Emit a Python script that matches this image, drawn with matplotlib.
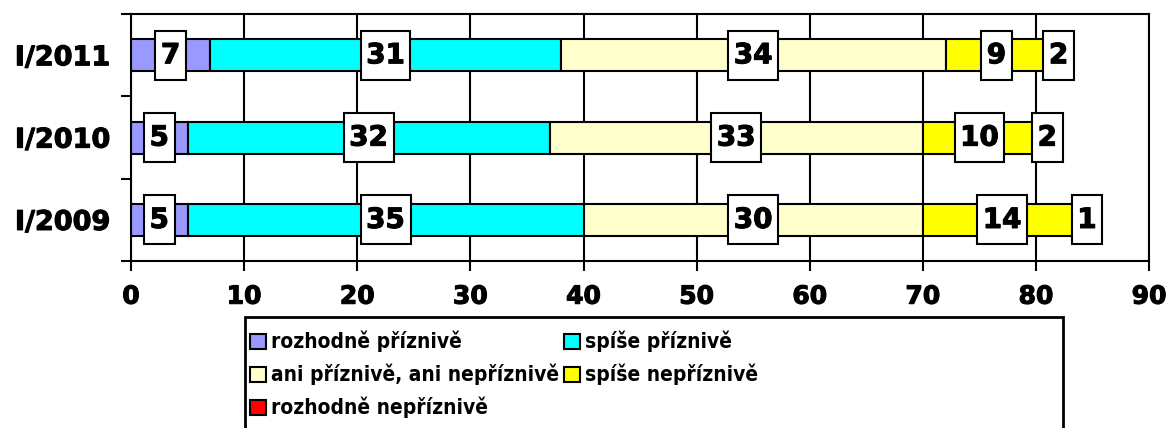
import numpy as np
import matplotlib.pyplot as plt
import matplotlib.patheffects as pe
from matplotlib.path import Path
from matplotlib.patches import Rectangle

years = ['I/2009', 'I/2010', 'I/2011']
series = ['rozhodně příznivě', 'spíše příznivě', 'ani příznivě, ani nepříznivě',
          'spíše nepříznivě', 'rozhodně nepříznivě']
rozhodne_pr = [5, 5, 7]
spise_pr = [35, 32, 31]
ani = [30, 33, 34]
spise_ne = [14, 10, 9]
rozhodne_ne = [1, 2, 2]
colors = ['#9999FF', '#00FFFF', '#FFFFCC', '#FFFF00', '#FF0000']

data = [rozhodne_pr, spise_pr, ani, spise_ne, rozhodne_ne]


def label_box(x0, y0, width, height, mutation_size):
    # wider vertical padding than horizontal, like the excel labels
    px = 0.2 * mutation_size
    py = 0.38 * mutation_size
    x0, x1 = x0 - px, x0 + width + px
    y0, y1 = y0 - py, y0 + height + py
    return Path([(x0, y0), (x1, y0), (x1, y1), (x0, y1), (x0, y0)], closed=True)


fig = plt.figure(figsize=(11.69, 4.28), dpi=100)
ax = fig.add_axes([0.1121, 0.390, 0.8709, 0.577])

thick = [pe.withStroke(linewidth=0.8, foreground='black')]

y = np.arange(len(years))
left = np.zeros(len(years))
handles = []
for vals, c, name in zip(data, colors, series):
    vals = np.array(vals)
    b = ax.barh(y, vals, left=left, height=0.39, color=c, edgecolor='black',
                linewidth=1.5, label=name, zorder=2)
    handles.append(b)
    for yi, v, l in zip(y, vals, left):
        ax.text(l + v / 2, yi, str(v), ha='center', va='center', fontsize=20,
                fontweight='bold', zorder=4, path_effects=thick,
                bbox=dict(boxstyle=label_box, fc='white', ec='black', lw=1.5))
    left = left + vals

ax.set_xlim(0, 90)
ax.set_ylim(-0.5, 2.5)
ax.set_xticks(np.arange(0, 91, 10))
ax.set_yticks(y)
ax.set_yticklabels(years)
ax.set_yticks([-0.5, 0.5, 1.5, 2.5], minor=True)
ax.tick_params(axis='y', which='major', length=0, pad=15)
ax.tick_params(axis='y', which='minor', length=7, width=1.5)
ax.tick_params(axis='x', length=7, width=1.5, pad=10)
for lab in ax.get_xticklabels():
    lab.set_fontsize(18)
    lab.set_fontweight('bold')
    lab.set_path_effects(thick)
for lab in ax.get_yticklabels():
    lab.set_fontsize(19.5)
    lab.set_fontweight('bold')
    lab.set_path_effects(thick)
ax.grid(axis='x', color='black', linewidth=1.5, zorder=1)
ax.set_axisbelow(True)
for s in ax.spines.values():
    s.set_linewidth(1.5)

order = [0, 2, 4, 1, 3]
leg = fig.legend([handles[i] for i in order], [series[i] for i in order],
                 ncol=2, loc='upper left', bbox_to_anchor=(250 / 1169, 1 - 331 / 428),
                 frameon=False,
                 prop=dict(size=15, weight='bold', stretch='condensed'),
                 handlelength=0.75, handleheight=0.75, handletextpad=0.25,
                 columnspacing=0.25, labelspacing=0.55, borderaxespad=0,
                 borderpad=0)
fig.patches.append(Rectangle((245 / 1169, -0.1), (1063 - 245) / 1169, 0.1 + 1 - 317 / 428,
                             transform=fig.transFigure, fill=False, ec='black', lw=2))

fig.savefig('out.png', dpi=100)
